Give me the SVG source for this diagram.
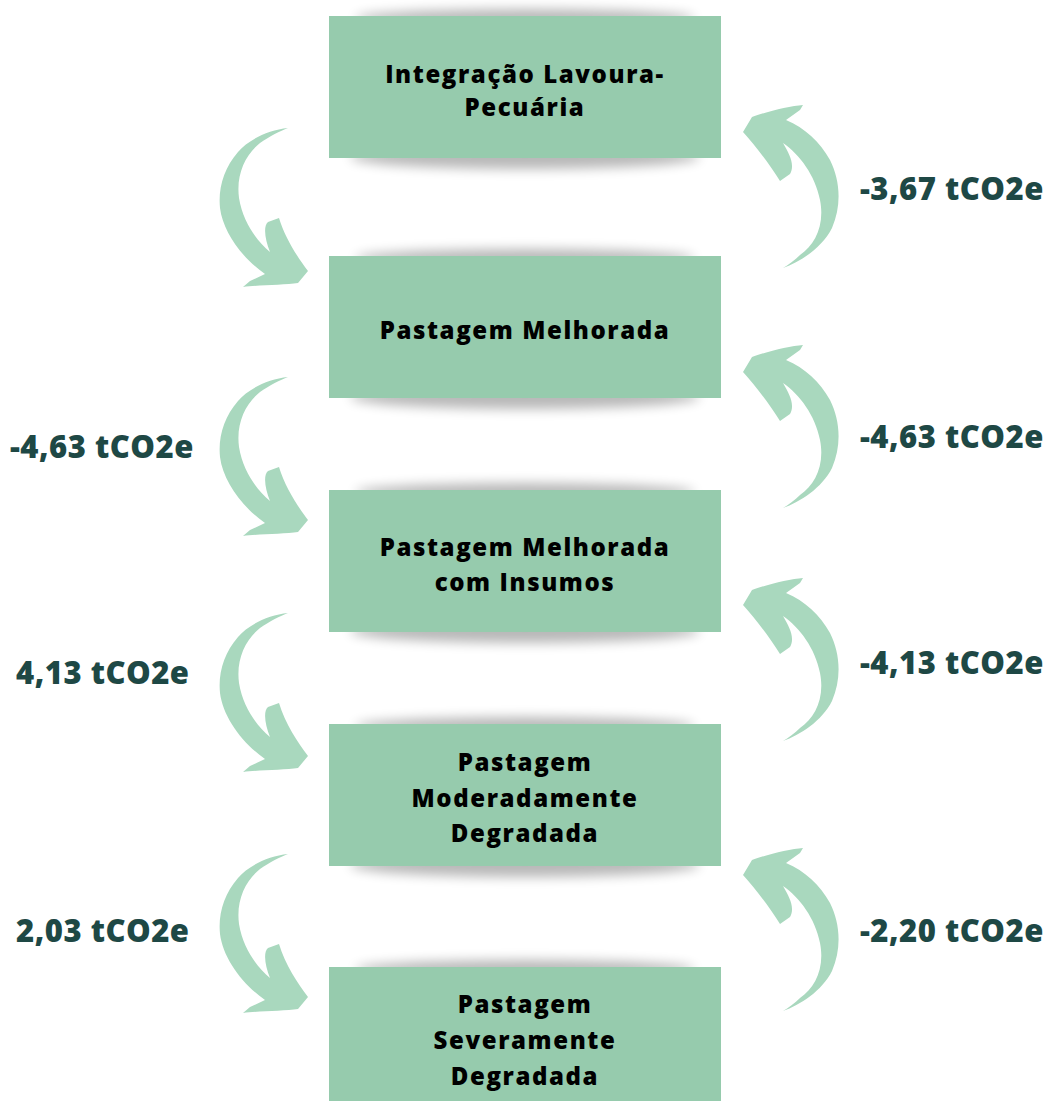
<svg xmlns="http://www.w3.org/2000/svg" width="1045" height="1101" viewBox="0 0 1045 1101">
<style>
.box{fill:#96cbad}
.bt{font-family:"Open Sans","DejaVu Sans",sans-serif;font-weight:800;font-size:24px;letter-spacing:1.6px;fill:#000;text-anchor:middle;dominant-baseline:central}
.lab{font-family:"Open Sans","DejaVu Sans",sans-serif;font-weight:800;font-size:31px;letter-spacing:0.5px;fill:#1e4845;dominant-baseline:central}
.arr{fill:#a9d8be}
.sh{fill:#000;opacity:0.28;filter:url(#blur)}
</style>
<defs>
<filter id="blur" x="-20%" y="-200%" width="140%" height="500%"><feGaussianBlur stdDeviation="6"/></filter>
<path id="la" d="M288,128 C268,130 248,140 238,152 C224,168 218,188 220,208 C223,232 242,258 265,274 L250,281 L243,287 C258,285 285,285 298,283 L308,271 C298,258 285,238 279,218 L268,222 C263,226 265,240 270,252 C256,240 243,222 239,198 C236,175 245,155 260,143 C270,136 280,131 288,128 Z"/>
<path id="ra" d="M783,268 C800,262 822,248 832,228 C842,205 840,180 830,160 C820,142 805,128 786,120 L800,110 L803,105 C790,106 765,112 752,117 L743,132 C755,145 770,165 780,181 L790,174 C795,165 790,155 783,143 C800,155 815,175 820,200 C825,225 815,245 800,255 C795,260 788,265 783,268 Z"/>
</defs>
<rect width="1045" height="1101" fill="#fff"/>
<g id="connectors">
<use href="#la" class="arr"/>
<use href="#la" class="arr" transform="translate(0,249)"/>
<use href="#la" class="arr" transform="translate(0,485)"/>
<use href="#la" class="arr" transform="translate(0,726)"/>
<use href="#ra" class="arr"/>
<use href="#ra" class="arr" transform="translate(0,240)"/>
<use href="#ra" class="arr" transform="translate(0,473)"/>
<use href="#ra" class="arr" transform="translate(0,743)"/>
<text class="lab" x="860" y="188">-3,67 tCO2e</text>
<text class="lab" x="10" y="446">-4,63 tCO2e</text>
<text class="lab" x="860" y="436">-4,63 tCO2e</text>
<text class="lab" x="16" y="672">4,13 tCO2e</text>
<text class="lab" x="860" y="662">-4,13 tCO2e</text>
<text class="lab" x="16" y="930">2,03 tCO2e</text>
<text class="lab" x="860" y="930">-2,20 tCO2e</text>
</g>
<g id="n1">
<ellipse class="sh" cx="525" cy="18" rx="170" ry="9"/>
<ellipse class="sh" cx="525" cy="157" rx="175" ry="12"/>
<rect class="box" x="329" y="16" width="392" height="142"/>
<text class="bt" x="525" y="73">Integração Lavoura-</text>
<text class="bt" x="525" y="106">Pecuária</text>
</g>
<g id="n2">
<ellipse class="sh" cx="525" cy="258" rx="170" ry="9"/>
<ellipse class="sh" cx="525" cy="397" rx="175" ry="12"/>
<rect class="box" x="329" y="256" width="392" height="142"/>
<text class="bt" x="525" y="329">Pastagem Melhorada</text>
</g>
<g id="n3">
<ellipse class="sh" cx="525" cy="492" rx="170" ry="9"/>
<ellipse class="sh" cx="525" cy="631" rx="175" ry="12"/>
<rect class="box" x="329" y="490" width="392" height="142"/>
<text class="bt" x="525" y="546">Pastagem Melhorada</text>
<text class="bt" x="525" y="581">com Insumos</text>
</g>
<g id="n4">
<ellipse class="sh" cx="525" cy="726" rx="170" ry="9"/>
<ellipse class="sh" cx="525" cy="865" rx="175" ry="12"/>
<rect class="box" x="329" y="724" width="392" height="142"/>
<text class="bt" x="525" y="761">Pastagem</text>
<text class="bt" x="525" y="797">Moderadamente</text>
<text class="bt" x="525" y="832">Degradada</text>
</g>
<g id="n5">
<ellipse class="sh" cx="525" cy="969" rx="170" ry="9"/>
<rect class="box" x="329" y="967" width="392" height="134"/>
<text class="bt" x="525" y="1003">Pastagem</text>
<text class="bt" x="525" y="1039">Severamente</text>
<text class="bt" x="525" y="1075">Degradada</text>
</g>
</svg>
